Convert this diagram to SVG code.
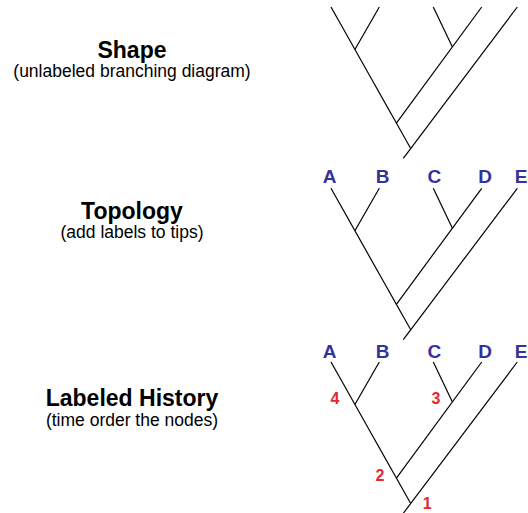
<svg xmlns="http://www.w3.org/2000/svg" width="528" height="513" viewBox="0 0 528 513">
<defs>
<style>
.title{font-family:"Liberation Sans",Arial,sans-serif;font-weight:bold;font-size:23px;fill:#000;text-anchor:middle}
.sub{font-family:"Liberation Sans",Arial,sans-serif;font-size:17.5px;fill:#000;text-anchor:middle}
.tip{font-family:"Liberation Sans",Arial,sans-serif;font-weight:bold;font-size:19px;fill:#333399;text-anchor:middle}
.num{font-family:"Liberation Sans",Arial,sans-serif;font-weight:bold;font-size:16px;fill:#e2292d;text-anchor:middle}
.br{stroke:#000;stroke-width:1.2;fill:none}
</style>
<g id="tree">
<line class="br" x1="331" y1="7" x2="410.7" y2="148.5"/>
<line class="br" x1="379.3" y1="7" x2="354.9" y2="49.5"/>
<line class="br" x1="433.3" y1="7" x2="452.4" y2="46.9"/>
<line class="br" x1="481.7" y1="7" x2="396.4" y2="123.1"/>
<line class="br" x1="517.3" y1="7" x2="403.3" y2="158.3"/>
</g>
</defs>
<g id="label-shape"><text class="title" x="132" y="58">Shape</text><text class="sub" x="132" y="76.5">(unlabeled branching diagram)</text></g>
<g id="label-topology"><text class="title" x="132" y="218.5">Topology</text><text class="sub" x="132" y="238">(add labels to tips)</text></g>
<g id="label-history"><text class="title" x="132" y="406">Labeled History</text><text class="sub" x="132" y="426">(time order the nodes)</text></g>
<g id="connectors">
<use href="#tree"/>
<use href="#tree" transform="translate(0,181.3)"/>
<use href="#tree" transform="translate(0,355)"/>
</g>
<g id="tips-topology">
<text class="tip" x="329.5" y="182.7">A</text>
<text class="tip" x="382.5" y="182.7">B</text>
<text class="tip" x="434.3" y="182.7">C</text>
<text class="tip" x="485" y="182.7">D</text>
<text class="tip" x="521" y="182.7">E</text>
</g>
<g id="tips-history">
<text class="tip" x="329.5" y="357.7">A</text>
<text class="tip" x="382.5" y="357.7">B</text>
<text class="tip" x="434.3" y="357.7">C</text>
<text class="tip" x="485" y="357.7">D</text>
<text class="tip" x="521" y="357.7">E</text>
</g>
<g id="node-order">
<text class="num" x="335" y="403.5">4</text>
<text class="num" x="436" y="403.5">3</text>
<text class="num" x="380" y="481">2</text>
<text class="num" x="427.3" y="509">1</text>
</g>
</svg>
